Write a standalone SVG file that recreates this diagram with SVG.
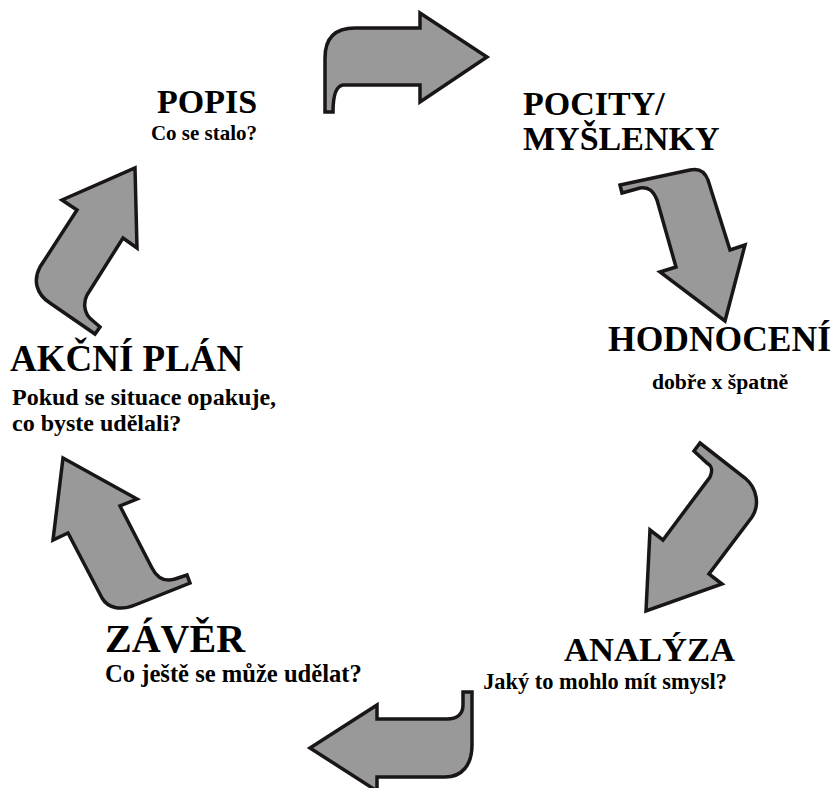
<svg xmlns="http://www.w3.org/2000/svg" width="835" height="788" viewBox="0 0 835 788">
<style>
.arrow{fill:#999999;stroke:#1a1616;stroke-width:3.5;stroke-linejoin:miter}
.h{font-family:"Liberation Serif","Times New Roman",serif;font-weight:bold;font-size:34px;fill:#000}
.s{font-family:"Liberation Serif","Times New Roman",serif;font-weight:bold;font-size:21px;fill:#000}
</style>
<rect width="835" height="788" fill="#ffffff"/>
<g id="connectors">
<path id="arrow-popis-pocity" class="arrow" d="M 325,112 L 325,58 C 325,38 335,28 355,28 L 420,28 L 420,13 L 487,57 L 420,102 L 420,85 L 343,85 C 336,86 333,95 333,112 Z"/>
<path id="arrow-pocity-hodnoceni" class="arrow" d="M 620,185 L 690,170 C 699,168 705,172 708,180 L 730,250 L 745,245 L 725,321 L 660,272 L 676,267 L 657,200 C 653,190 648,187 640,188 L 622,193 Z"/>
<path id="arrow-hodnoceni-analyza" class="arrow" d="M 700,443 L 745,478 C 757,488 760,505 752,517 L 709,574 L 722,584 L 646,611 L 650,530 L 663,540 L 710,477 C 713,470 712,466 707,463 L 694,451 Z"/>
<path id="arrow-analyza-zaver" class="arrow" d="M 472,692 L 472,745 C 472,765 462,777 445,777 L 377,777 L 377,791 L 310,748 L 377,705 L 377,719 L 447,719 C 457,719 463,714 463,705 L 463,692 Z"/>
<path id="arrow-zaver-akcni" class="arrow" d="M 63,458 L 137,499 L 120,506 L 152,568 C 157,578 165,582 175,579 L 187,575 L 190,583 L 135,605 C 120,611 108,608 102,598 L 68,533 L 53,540 Z"/>
<path id="arrow-akcni-popis" class="arrow" d="M 135,168 L 137,248 L 123,238 L 87,295 C 83,303 84,314 92,320 L 100,327 L 95,334 L 50,303 C 36,294 33,280 40,267 L 77,210 L 62,200 Z"/>
</g>
<g id="popis">
<text class="h" x="207" y="113" text-anchor="middle">POPIS</text>
<text class="s" x="204" y="140" text-anchor="middle">Co se stalo?</text>
</g>
<g id="pocity">
<text class="h" x="523" y="115">POCITY/</text>
<text class="h" x="523" y="150">MYŠLENKY</text>
</g>
<g id="hodnoceni">
<text class="h" x="831" y="351" text-anchor="end" style="font-size:35.5px">HODNOCENÍ</text>
<text class="s" x="720" y="389" text-anchor="middle" style="font-size:21.7px">dobře x špatně</text>
</g>
<g id="analyza">
<text class="h" x="735" y="661" text-anchor="end" style="font-size:34.6px">ANALÝZA</text>
<text class="s" x="727" y="689" text-anchor="end" style="font-size:22.4px">Jaký to mohlo mít smysl?</text>
</g>
<g id="zaver">
<text class="h" x="105" y="652" style="font-size:40px">ZÁVĚR</text>
<text class="s" x="105" y="682" style="font-size:24.6px">Co ještě se může udělat?</text>
</g>
<g id="akcni-plan">
<text class="h" x="10" y="371" style="font-size:37px">AKČNÍ PLÁN</text>
<text class="s" x="12" y="405" style="font-size:24px">Pokud se situace opakuje,</text>
<text class="s" x="12" y="431" style="font-size:24px">co byste udělali?</text>
</g>
</svg>
